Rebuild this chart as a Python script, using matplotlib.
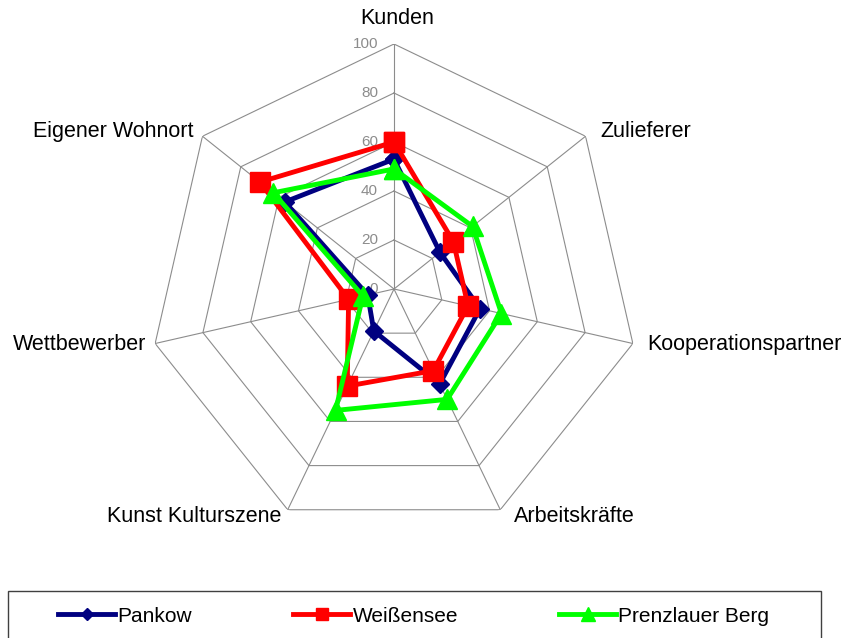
import matplotlib
matplotlib.use('Agg')
import matplotlib.pyplot as plt
from matplotlib.lines import Line2D
from matplotlib.patches import Rectangle
import numpy as np

categories = ['Kunden', 'Zulieferer', 'Kooperationspartner', 'Arbeitskräfte',
              'Kunst Kulturszene', 'Wettbewerber', 'Eigener Wohnort']
pankow = [53, 24, 36, 43, 19, 11, 57]
weissensee = [60, 31, 31, 37, 44, 19, 70]
prenzlauer = [49, 41, 45, 50, 55, 13, 63]
series_names = ['Pankow', 'Weißensee', 'Prenzlauer Berg']
ticks = [0, 20, 40, 60, 80, 100]

plt.rcParams['font.family'] = ['Liberation Sans', 'DejaVu Sans']

fig = plt.figure(figsize=(8.44, 6.38), dpi=100)
ax = fig.add_axes([149 / 844, 104 / 638, 490 / 844, 490 / 638], projection='polar')
ax.set_theta_zero_location('N')
ax.set_theta_direction(-1)
ax.set_ylim(0, 100)
ax.axis('off')

n = len(categories)
theta = np.arange(n) * 2 * np.pi / n
closed = np.append(theta, theta[0])

# heptagon grid
grid_col = '#8c8c8c'
for r in ticks[1:]:
    ax.plot(closed, [r] * (n + 1), color=grid_col, lw=0.8, zorder=1)
for t in theta:
    ax.plot([t, t], [0, 100], color=grid_col, lw=0.8, zorder=1)

# radial tick labels along the top axis
for v in ticks:
    ax.annotate(str(v), xy=(0, v), xytext=(-16, 0), textcoords='offset pixels',
                ha='right', va='center', color='#8c8c8c', fontsize=11, zorder=2)

# category labels
offsets = [((3, 26), 'center'), ((15, 5), 'left'), ((14, -1), 'left'),
           ((14, -7), 'left'), ((-6, -7), 'right'), ((-9, -1), 'right'),
           ((-9, 5), 'right')]
for t, name, (off, ha) in zip(theta, categories, offsets):
    ax.annotate(name, xy=(t, 100), xytext=off, textcoords='offset pixels',
                ha=ha, va='center', fontsize=15.5, annotation_clip=False)

styles = [('#000080', 'D', 9), ('#FF0000', 's', 14), ('#00FF00', '^', 15)]
data = [pankow, weissensee, prenzlauer]
for vals, (col, mk, ms) in zip(data, styles):
    ax.plot(closed, vals + vals[:1], color=col, lw=3.5, marker=mk, ms=ms,
            mec=col, mfc=col, zorder=3, clip_on=False)

# legend
handles = [Line2D([], [], color=col, lw=3.5, marker=mk, ms=ms * 0.65, mec=col)
           for col, mk, ms in styles]
fig.legend(handles, series_names, loc='center left',
           bbox_to_anchor=(58 / 844, 22 / 638), ncol=3, frameon=False,
           handlelength=2.75, handletextpad=0.1, columnspacing=4.85,
           borderpad=0, borderaxespad=0, fontsize=15)
fig.add_artist(Rectangle((8 / 844, -0.05), (821 - 8) / 844, 47 / 638 + 0.05,
                         transform=fig.transFigure, fill=False,
                         ec='#404040', lw=1))

fig.savefig('out.png', dpi=100)
